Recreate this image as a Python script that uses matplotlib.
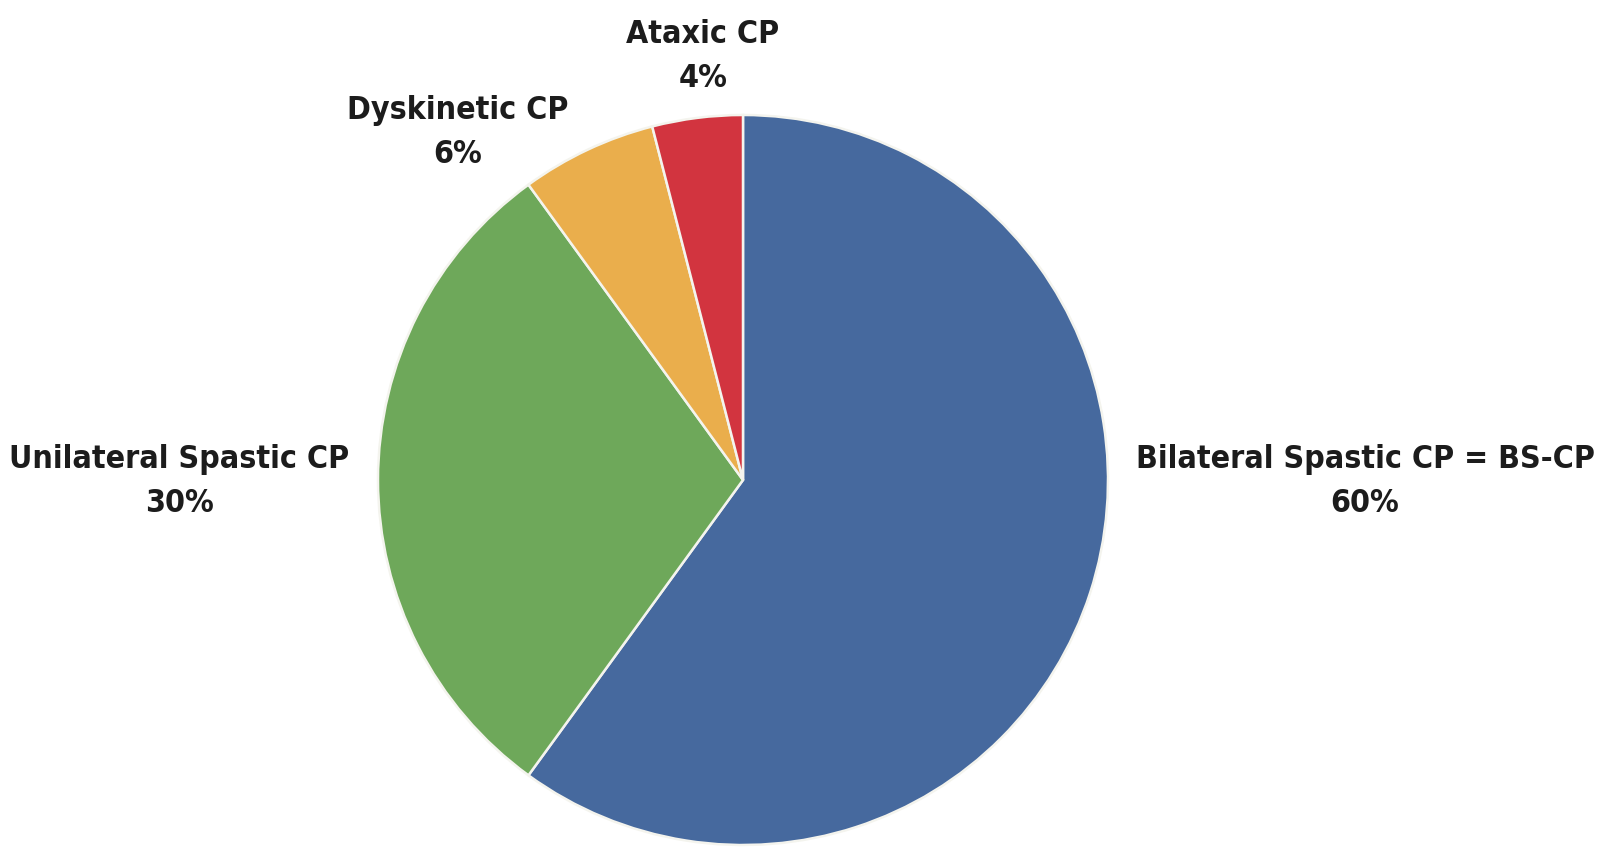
import matplotlib
matplotlib.use("Agg")
import matplotlib.pyplot as plt

# --------------- data ---------------
labels = ["Bilateral Spastic CP = BS-CP", "Unilateral Spastic CP", "Dyskinetic CP", "Ataxic CP"]
values = [60, 30, 6, 4]
colors = ["#46699e", "#6ea85a", "#eaae4c", "#d2343f"]

# label positions (data units, pie radius = 1)
label_pos = [(1.704, -0.005), (-1.545, -0.005), (-0.781, 0.951), (-0.11, 1.160)]

# center of pie in pixels and radius
cx, cy, r = 743, 480, 365
W, H = 1612, 847

fig = plt.figure(figsize=(W / 100, H / 100), dpi=100)
ax = fig.add_axes([0, 0, 1, 1])

ax.pie(values, colors=colors, startangle=90, counterclock=False, radius=1,
       wedgeprops=dict(edgecolor="#f4f4ee", linewidth=1.8))

for lab, v, (x, y) in zip(labels, values, label_pos):
    ax.text(x, y, f"{lab}\n{v}%", ha="center", va="center", fontsize=23,
            fontweight="bold", fontstretch="condensed", color="#1c1c1c",
            linespacing=1.55, family="DejaVu Sans")

ax.set_xlim(-cx / r, (W - cx) / r)
ax.set_ylim(-(H - cy) / r, cy / r)
ax.set_aspect("auto")
ax.axis("off")

fig.savefig("out.png", dpi=100, facecolor="white")
